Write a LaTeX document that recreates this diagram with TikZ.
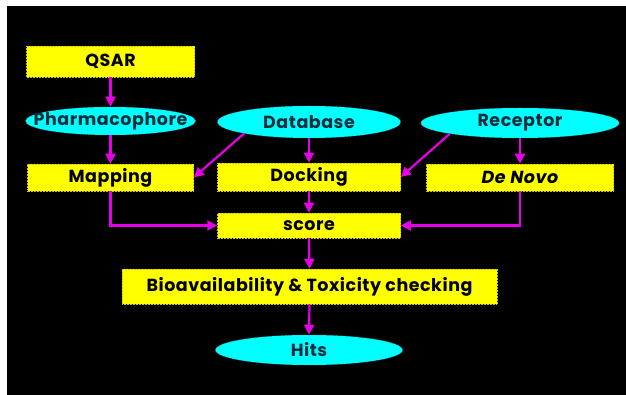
\documentclass[tikz,border=0pt]{standalone}
\usepackage{fontspec}
\setmainfont{Poppins}[LetterSpace=3]
\usetikzlibrary{shapes.geometric,arrows.meta}
\definecolor{flowmag}{RGB}{230,0,230}
\definecolor{boxyel}{RGB}{255,255,0}
\definecolor{ovalcyan}{RGB}{0,255,255}
\definecolor{ovaltext}{RGB}{15,45,60}
\tikzset{
  labelfont/.style={font=\fontsize{17.5}{19}\selectfont\bfseries},
  boxnode/.style={rectangle, fill=boxyel, draw=boxyel!80!black, densely dotted,
    line width=0.5pt, inner sep=0pt, labelfont, text=black},
  ovalnode/.style={ellipse, fill=ovalcyan, draw=ovalcyan!80!black, densely dotted,
    line width=0.5pt, inner sep=0pt, labelfont, text=ovaltext},
  flow/.style={draw=flowmag, solid, line width=2.2pt,
    -{Triangle[length=10pt,width=10pt]}}
}
\begin{document}
\begin{tikzpicture}[x=1pt,y=-1pt]
  \useasboundingbox (0,0) rectangle (626,395);
  \fill[white] (0,0) rectangle (626,395);
  \fill[black] (7,6) rectangle (626,395);

  % left column
  \node[boxnode, minimum width=168pt, minimum height=31pt] (qsar) at (110.5,61.5) {QSAR};
  \node[ovalnode, minimum width=170pt, minimum height=28pt] (pharm) at (110.5,121) {\makebox[0pt]{Pharmacophore}};
  \node[boxnode, minimum width=166pt, minimum height=27pt] (map) at (110.5,177.5) {Mapping};

  % middle column
  \node[ovalnode, minimum width=183pt, minimum height=32pt] (db) at (309,122) {\makebox[0pt]{Database}};
  \node[boxnode, minimum width=183pt, minimum height=28pt] (dock) at (309,177) {Docking};
  \node[boxnode, minimum width=183pt, minimum height=25pt] (score) at (309,225.5) {score};
  \node[boxnode, minimum width=375pt, minimum height=35pt] (bio) at (309.5,286.5) {Bioavailability \& Toxicity checking};
  \node[ovalnode, minimum width=187pt, minimum height=30pt] (hits) at (309,350) {\makebox[0pt]{Hits}};

  % right column
  \node[ovalnode, minimum width=198pt, minimum height=30pt] (rec) at (520,123) {\makebox[0pt]{Receptor}};
  \node[boxnode, minimum width=187pt, minimum height=27pt] (denovo) at (520,177.5) {\itshape De Novo};

  % connectors
  \draw[flow] (qsar.south) -- (pharm.north);
  \draw[flow] (pharm.south) -- (map.north);
  \draw[flow] (db.south west) -- (map.east);
  \draw[flow] (db.south) -- (dock.north);
  \draw[flow] (rec.south west) -- (dock.east);
  \draw[flow] (rec.south) -- (denovo.north);
  \draw[flow] (dock.south) -- (score.north);
  \draw[flow] (map.south) |- (score.west);
  \draw[flow] (denovo.south) |- (score.east);
  \draw[flow] (score.south) -- (bio.north);
  \draw[flow] (bio.south) -- (hits.north);
\end{tikzpicture}
\end{document}
